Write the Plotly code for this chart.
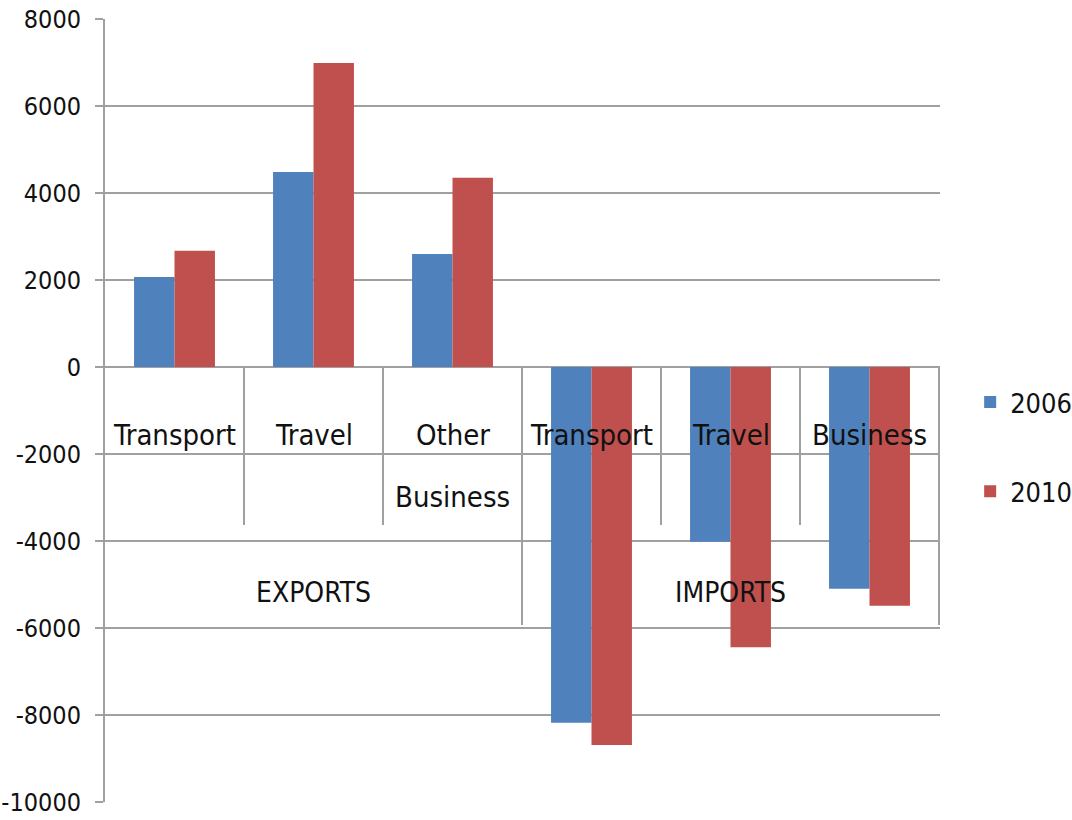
import plotly.graph_objects as go

# Services trade: exports and imports by type, 2006 vs 2010
groups = ["EXPORTS", "EXPORTS", "EXPORTS", "IMPORTS", "IMPORTS", "IMPORTS"]
categories = ["Transport", "Travel", "Other<br>Business", "Transport", "Travel", "Business"]
values_2006 = [2070, 4480, 2600, -8180, -4020, -5100]
values_2010 = [2670, 6990, 4350, -8690, -6440, -5490]

y_tick_values = [-10000, -8000, -6000, -4000, -2000, 0, 2000, 4000, 6000, 8000]
y_tick_labels = ["-10000", "-8000", "-6000", "-4000", "-2000", "0", "2000", "4000", "6000", "8000"]

BLUE = "#4F81BD"
RED = "#C0504D"
GRID = "#a0a0a0"
FONT = "DejaVu Sans Condensed, Liberation Sans Narrow, sans-serif"

# unique keys so the repeated "Transport"/"Travel" names stay separate slots
x_keys = [f"{g}|{c}" for g, c in zip(groups, categories)]

fig = go.Figure()
fig.add_trace(go.Bar(x=x_keys, y=values_2006, name="2006", marker_color=BLUE,
                     marker_line_width=0, legendgroup="a"))
fig.add_trace(go.Bar(x=x_keys, y=values_2010, name="2010", marker_color=RED,
                     marker_line_width=0, legendgroup="b"))

# category table under the zero line
shapes = []
n = len(x_keys)
for i in range(1, n):
    if groups[i] != groups[i - 1]:
        continue
    shapes.append(dict(type="line", xref="x", yref="y", x0=i - 0.5, x1=i - 0.5,
                       y0=0, y1=-3630, line=dict(color=GRID, width=2), layer="below"))
for i in range(1, n + 1):
    if i == n or groups[i] != groups[i - 1]:
        shapes.append(dict(type="line", xref="x", yref="y", x0=i - 0.5, x1=i - 0.5,
                           y0=0, y1=-5930, line=dict(color=GRID, width=2), layer="below"))

# category names, one annotation per text line (wide Excel-style line spacing)
LINE_Y = [-1563, -2990]
annotations = []
for i, c in enumerate(categories):
    for k, line in enumerate(c.split("<br>")):
        annotations.append(dict(x=i, y=LINE_Y[k], xref="x", yref="y", text=line,
                                showarrow=False, yanchor="middle", xanchor="center",
                                font=dict(family=FONT, size=29, color="#111")))
seen = []
for g in groups:
    if g not in seen:
        seen.append(g)
for g in seen:
    idx = [i for i, gg in enumerate(groups) if gg == g]
    annotations.append(dict(x=sum(idx) / len(idx), y=-5195, xref="x", yref="y", text=g,
                            showarrow=False, yanchor="middle", xanchor="center",
                            font=dict(family=FONT, size=28, color="#111")))

fig.update_layout(
    width=1072, height=820,
    margin=dict(l=105, r=132, t=19, b=18, autoexpand=False),
    paper_bgcolor="white", plot_bgcolor="white",
    barmode="group", bargap=0.418, bargroupgap=0,
    shapes=shapes, annotations=annotations,
    legend=dict(xref="container", yref="container", x=0.905, y=0.539,
                xanchor="left", yanchor="top",
                font=dict(family=FONT, size=27, color="#111"),
                tracegroupgap=51, bgcolor="rgba(0,0,0,0)"),
    xaxis=dict(showticklabels=False, showgrid=False, zeroline=False, showline=False,
               ticks="", automargin=False),
    yaxis=dict(range=[-10000, 8000], tickvals=y_tick_values, ticktext=y_tick_labels,
               showgrid=True, gridcolor=GRID, gridwidth=2, zeroline=False,
               showline=True, linecolor=GRID, linewidth=2,
               ticks="outside", ticklen=8, tickcolor=GRID, tickwidth=2,
               ticklabelstandoff=9, automargin=False,
               tickfont=dict(family=FONT, size=25, color="#111")),
)

fig.write_html("out.html")
